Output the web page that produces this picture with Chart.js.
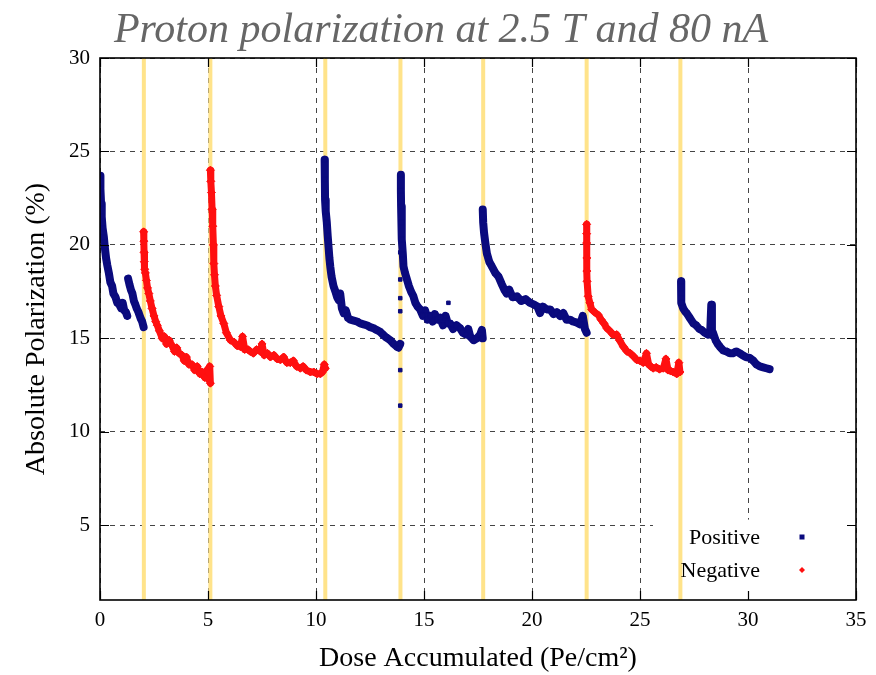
<!DOCTYPE html>
<html>
<head>
<meta charset="utf-8">
<script src="https://cdn.jsdelivr.net/npm/chart.js@4.4.0/dist/chart.umd.min.js"></script>
<style>
  html, body { margin: 0; padding: 0; background: #fff; }
  #wrap { width: 876px; height: 675px; position: relative; }
</style>
</head>
<body>
<div id="wrap"><canvas id="myChart"></canvas></div>
<script>
// values, [dose, polarization]
const pos1 = [[0.0,23.7],[0.02,23.0],[0.05,22.2],[0.08,21.5],[0.12,20.9],[0.18,20.4],[0.22,19.9],[0.28,19.3],[0.34,18.9],[0.41,18.5],[0.48,18.0],[0.56,17.8],[0.62,17.4],[0.72,17.2],[0.8,16.9],[0.9,16.8],[0.98,16.6],[1.05,16.9],[1.12,16.5],[1.2,16.4],[1.26,16.2]];
const pos1b = [[1.3,18.2],[1.36,17.9],[1.43,17.6],[1.5,17.4],[1.57,17.0],[1.64,16.8],[1.7,16.6],[1.78,16.4],[1.87,16.1],[1.95,15.9],[2.02,15.6]];
const neg1 = [[2.02,20.7],[2.03,20.2],[2.04,19.6],[2.05,19.1],[2.07,18.7],[2.1,18.5],[2.15,18.1],[2.2,17.7],[2.26,17.4],[2.33,17.0],[2.41,16.6],[2.5,16.2],[2.58,15.9],[2.65,15.7],[2.75,15.4],[2.88,15.0],[2.98,15.1],[3.08,14.7],[3.2,14.9],[3.34,14.6],[3.45,14.3],[3.55,14.5],[3.66,14.2],[3.8,14.1],[3.9,13.8],[4.0,14.0],[4.12,13.6],[4.26,13.6],[4.38,13.3],[4.5,13.5],[4.62,13.1],[4.73,13.2],[4.85,12.9],[4.95,13.3],[5.02,12.8],[5.08,13.5],[5.11,12.6]];
const neg2 = [[5.11,24.0],[5.13,23.4],[5.16,22.8],[5.19,21.9],[5.22,21.0],[5.25,20.0],[5.27,19.0],[5.3,18.4],[5.34,17.8],[5.4,17.3],[5.5,16.7],[5.6,16.2],[5.73,15.8],[5.85,15.3],[6.04,14.9],[6.2,14.8],[6.35,14.6],[6.5,14.55],[6.6,15.1],[6.7,14.4],[6.85,14.4],[6.96,14.3],[7.1,14.2],[7.25,14.4],[7.42,14.3],[7.5,14.7],[7.6,14.1],[7.75,14.2],[7.89,14.0],[8.05,14.1],[8.2,13.9],[8.35,13.85],[8.5,14.0],[8.65,13.7],[8.81,13.7],[8.95,13.8],[9.1,13.5],[9.27,13.4],[9.4,13.5],[9.55,13.3],[9.74,13.2],[9.9,13.2],[10.05,13.1],[10.2,13.1],[10.3,13.2],[10.38,13.6],[10.43,13.4]];
const pos2 = [[10.4,24.55],[10.41,23.5],[10.42,22.4],[10.45,21.8],[10.5,21.2],[10.54,20.5],[10.58,19.9],[10.62,19.3],[10.66,18.85],[10.72,18.3],[10.81,17.8],[10.9,17.5],[10.98,17.2],[11.05,17.05],[11.12,17.4],[11.2,16.6],[11.28,16.35],[11.38,16.5],[11.48,16.1],[11.59,16.0],[11.75,15.95],[11.9,15.9],[12.05,15.8],[12.2,15.75],[12.35,15.7],[12.51,15.6],[12.65,15.55],[12.8,15.45],[12.97,15.35],[13.1,15.2],[13.25,15.05],[13.44,14.9],[13.6,14.7],[13.75,14.55],[13.82,14.5],[13.9,14.7]];
const pos3 = [[13.93,23.75],[13.93,22.9],[13.94,22.05],[13.96,21.2],[13.98,20.3],[14.02,19.5],[14.05,18.85],[14.12,18.5],[14.21,18.15],[14.3,17.8],[14.4,17.5],[14.51,17.25],[14.6,16.9],[14.7,16.7],[14.82,16.55],[14.95,16.2],[15.05,16.5],[15.17,16.0],[15.29,16.2],[15.4,15.9],[15.5,16.3],[15.62,16.0],[15.75,16.1],[15.88,15.7],[16.0,16.2],[16.1,15.8],[16.21,15.8],[16.35,15.5],[16.5,15.7],[16.67,15.55],[16.8,15.3],[16.95,15.2],[17.05,15.5],[17.14,15.1],[17.3,14.9],[17.45,15.0],[17.6,15.2],[17.68,15.45],[17.72,15.0]];
const posStray = [[13.9,19.6],[13.9,18.15],[13.9,17.15],[13.9,16.45],[13.9,13.3],[13.9,11.4],[16.13,16.9]];
const pos4 = [[17.72,21.9],[17.74,21.2],[17.78,20.65],[17.84,20.1],[17.91,19.55],[18.02,19.1],[18.14,18.85],[18.3,18.5],[18.45,18.3],[18.6,17.9],[18.72,17.6],[18.83,17.4],[18.95,17.6],[19.1,17.2],[19.3,17.25],[19.5,17.0],[19.7,17.1],[19.91,16.9],[20.1,16.8],[20.25,16.7],[20.37,16.35],[20.5,16.7],[20.68,16.55],[20.84,16.55],[21.0,16.3],[21.15,16.4],[21.3,16.2],[21.45,16.35],[21.6,16.0],[21.76,16.0],[21.9,15.9],[22.05,15.85],[22.23,15.75],[22.35,16.2],[22.45,15.5],[22.53,15.3]];
const neg3 = [[22.53,21.1],[22.53,20.6],[22.53,20.1],[22.54,19.3],[22.54,18.6],[22.55,18.05],[22.6,17.25],[22.68,16.9],[22.76,16.55],[22.9,16.4],[23.07,16.25],[23.2,16.0],[23.33,15.8],[23.46,15.55],[23.6,15.4],[23.75,15.2],[23.92,15.2],[24.05,14.9],[24.23,14.55],[24.4,14.3],[24.55,14.2],[24.69,14.05],[24.85,13.85],[25.0,13.8],[25.15,13.7],[25.3,14.2],[25.4,13.6],[25.5,13.5],[25.61,13.4],[25.75,13.45],[25.9,13.35],[26.08,13.4],[26.2,13.9],[26.3,13.3],[26.42,13.25],[26.54,13.2],[26.7,13.1],[26.8,13.7],[26.85,13.2]];
const pos5 = [[26.9,18.05],[26.9,17.4],[26.92,16.9],[27.0,16.6],[27.08,16.45],[27.16,16.35],[27.3,16.1],[27.47,15.8],[27.6,15.7],[27.75,15.5],[27.85,15.45],[28.0,15.3],[28.16,15.2],[28.25,15.3],[28.3,16.8],[28.33,15.4],[28.38,15.3],[28.5,14.9],[28.6,14.7],[28.7,14.55],[28.85,14.35],[29.0,14.3],[29.16,14.2],[29.3,14.2],[29.45,14.3],[29.62,14.2],[29.75,14.1],[29.9,14.0],[30.08,13.95],[30.25,13.8],[30.4,13.6],[30.55,13.5],[30.7,13.45],[30.85,13.4],[31.0,13.35]];

// anneal / polarity change markers
const annealX = [2.03, 5.11, 10.43, 13.91, 17.74, 22.53, 26.87];

const xTicks = [0, 5, 10, 15, 20, 25, 30, 35];
const yTicks = [5, 10, 15, 20, 25, 30];

const posSegs = [pos1, pos1b, pos2, pos3, pos4, pos5];
const negSegs = [neg1, neg2, neg3];

const NAVY = "#0b0b7e";
const RED = "#ff1010";
const SERIF = "'Liberation Serif', 'DejaVu Serif', serif";
const TITLE = "Proton polarization at 2.5 T and 80 nA";

const datasets = [];
posSegs.forEach(seg => {
  datasets.push({
    label: "Positive",
    data: seg.map(p => ({x: p[0], y: p[1]})),
    showLine: true,
    borderColor: NAVY,
    backgroundColor: NAVY,
    borderWidth: 8,
    borderJoinStyle: "round",
    borderCapStyle: "round",
    pointStyle: "rect",
    pointRadius: 3.5,
    pointBorderWidth: 1,
    order: 1
  });
});
datasets.push({
  label: "Positive",
  data: posStray.map(p => ({x: p[0], y: p[1]})),
  showLine: false,
  backgroundColor: NAVY,
  borderColor: NAVY,
  pointStyle: "rect",
  pointRadius: 2.5,
  pointBorderWidth: 1,
  order: 1
});
negSegs.forEach(seg => {
  datasets.push({
    label: "Negative",
    data: seg.map(p => ({x: p[0], y: p[1]})),
    showLine: true,
    borderColor: RED,
    backgroundColor: RED,
    borderWidth: 7,
    borderJoinStyle: "round",
    borderCapStyle: "round",
    pointStyle: "rectRot",
    pointRadius: 4,
    pointBorderWidth: 1,
    order: 1
  });
});
annealX.forEach(x => {
  datasets.push({
    label: "anneal",
    data: [{x: x, y: 1}, {x: x, y: 30}],
    showLine: true,
    borderColor: "#ffe38a",
    borderWidth: 4,
    pointRadius: 0,
    order: 5
  });
});

// white patch under the key, inward ticks, frame, key text and title
const frame = {
  id: "frame",
  beforeDatasetsDraw(chart) {
    const {ctx, chartArea: a, scales} = chart;
    ctx.save();
    ctx.fillStyle = "#fff";
    const x0 = scales.x.getPixelForValue(25.6);
    const y0 = scales.y.getPixelForValue(5.3);
    ctx.fillRect(x0, y0, a.right - x0, a.bottom - y0);
    ctx.restore();
  },
  afterDatasetsDraw(chart) {
    const {ctx, chartArea: a, scales} = chart;
    ctx.save();
    ctx.strokeStyle = "#000";
    ctx.lineWidth = 1.2;
    ctx.beginPath();
    yTicks.forEach(v => {
      const y = Math.round(scales.y.getPixelForValue(v)) + 0.5;
      ctx.moveTo(a.left, y); ctx.lineTo(a.left + 9, y);
      ctx.moveTo(a.right, y); ctx.lineTo(a.right - 9, y);
    });
    xTicks.forEach(v => {
      const x = Math.round(scales.x.getPixelForValue(v)) + 0.5;
      ctx.moveTo(x, a.bottom); ctx.lineTo(x, a.bottom - 9);
      ctx.moveTo(x, a.top); ctx.lineTo(x, a.top + 9);
    });
    ctx.stroke();
    ctx.lineWidth = 1.6;
    ctx.strokeRect(a.left, a.top, a.right - a.left, a.bottom - a.top);

    // key
    ctx.font = "22px " + SERIF;
    ctx.fillStyle = "#000";
    ctx.textAlign = "right";
    ctx.textBaseline = "middle";
    const keyX = a.right - 96;
    const mx = a.right - 54;
    ctx.fillText("Positive", keyX, a.bottom - 62);
    ctx.fillText("Negative", keyX, a.bottom - 29);
    ctx.fillStyle = NAVY;
    ctx.fillRect(mx - 2.5, a.bottom - 65.5, 5, 5);
    ctx.fillStyle = RED;
    ctx.beginPath();
    ctx.moveTo(mx, a.bottom - 33); ctx.lineTo(mx + 3, a.bottom - 30);
    ctx.lineTo(mx, a.bottom - 27); ctx.lineTo(mx - 3, a.bottom - 30);
    ctx.closePath(); ctx.fill();

    // title
    ctx.font = "italic 42px " + SERIF;
    ctx.fillStyle = "#666";
    ctx.textAlign = "center";
    ctx.textBaseline = "alphabetic";
    ctx.fillText(TITLE, 441, 42);
    ctx.restore();
  }
};

new Chart("myChart", {
  type: "scatter",
  data: {datasets: datasets},
  options: {
    responsive: true,
    maintainAspectRatio: false,
    animation: false,
    layout: {padding: {top: 58, right: 20, left: 0, bottom: 0}},
    plugins: {
      legend: {display: false},
      tooltip: {enabled: false},
      title: {display: false}
    },
    scales: {
      x: {
        type: "linear",
        min: 0,
        max: 35,
        afterFit(scale) { scale.height = 75; },
        afterBuildTicks(scale) { scale.ticks = xTicks.map(v => ({value: v})); },
        ticks: {color: "#000", font: {family: SERIF, size: 21}, padding: 8},
        grid: {color: "#444", lineWidth: 1, drawTicks: false},
        border: {display: false, dash: [5, 5]},
        title: {
          display: true,
          text: "Dose Accumulated (Pe/cm²)",
          color: "#000",
          font: {family: SERIF, size: 28},
          padding: {top: 0, bottom: 0}
        }
      },
      y: {
        type: "linear",
        min: 1,
        max: 30,
        afterFit(scale) { scale.width = 100; },
        afterBuildTicks(scale) { scale.ticks = yTicks.map(v => ({value: v})); },
        ticks: {color: "#000", font: {family: SERIF, size: 21}, padding: 10},
        grid: {color: "#444", lineWidth: 1, drawTicks: false},
        border: {display: false, dash: [5, 5]},
        title: {
          display: true,
          text: "Absolute Polarization (%)",
          color: "#000",
          font: {family: SERIF, size: 28},
          padding: {top: 20, bottom: 0}
        }
      }
    }
  },
  plugins: [frame]
});
</script>
</body>
</html>
